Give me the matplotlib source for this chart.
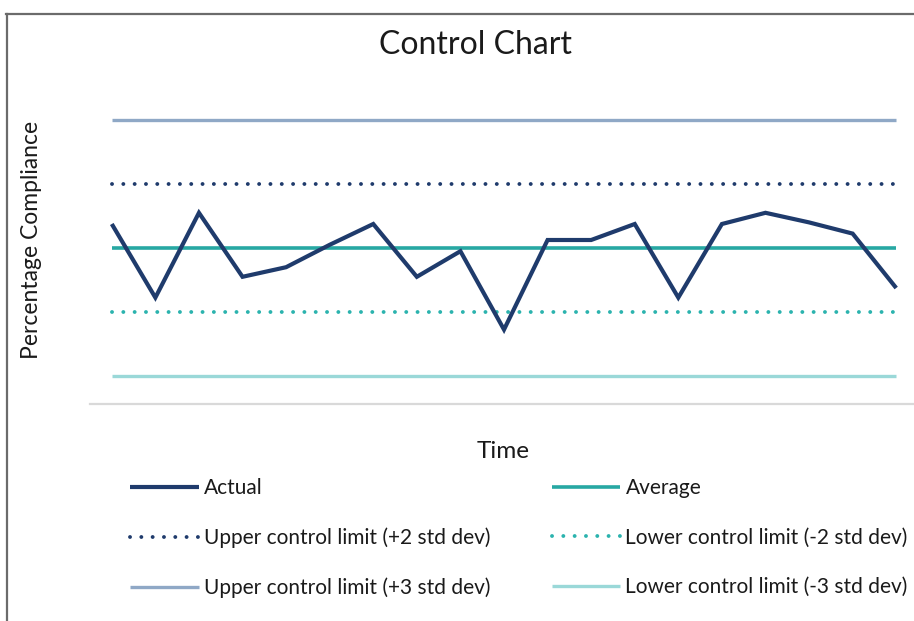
import matplotlib
matplotlib.use("Agg")
import matplotlib.pyplot as plt
from matplotlib.lines import Line2D

# ---- data ----
periods = list(range(1, 20))
actual = [86.5, 81.9, 87.2, 83.2, 83.8, 85.2, 86.5, 83.2, 84.8, 79.9,
          85.5, 85.5, 86.5, 81.9, 86.5, 87.2, 86.6, 85.9, 82.5]
average = 85.0
ucl2 = 89.0
lcl2 = 81.0
ucl3 = 93.0
lcl3 = 77.0

labels = ["Actual", "Upper control limit (+2 std dev)", "Upper control limit (+3 std dev)",
          "Average", "Lower control limit (-2 std dev)", "Lower control limit (-3 std dev)"]

plt.rcParams['font.family'] = ['Lato', 'DejaVu Sans']

W, H = 914, 621
fig = plt.figure(figsize=(W / 100, H / 100), dpi=100)
fig.patch.set_facecolor('white')

# axes placed in pixel terms
l, r, t, b = 90, 918, 100, 404
ax = fig.add_axes([l / W, (H - b) / H, (r - l) / W, (b - t) / H])
ax.set_facecolor('none')

n = len(periods)
ax.set_xlim(periods[0] - 0.5, periods[-1] + 0.5)
ax.set_ylim(75.25, 94.25)

c_actual = '#1f3b6c'
c_avg = '#27a8a3'
c_ucl2 = '#1f3b6c'
c_lcl2 = '#2bb3ae'
c_ucl3 = '#8fa8c6'
c_lcl3 = '#9ad8d8'

dot = (0, (0.01, 2.9))
h_ucl3, = ax.plot(periods, [ucl3] * n, color=c_ucl3, lw=2.4, solid_capstyle='butt')
h_lcl3, = ax.plot(periods, [lcl3] * n, color=c_lcl3, lw=2.4, solid_capstyle='butt')
h_ucl2, = ax.plot(periods, [ucl2] * n, color=c_ucl2, lw=2.8, linestyle=dot, dash_capstyle='round')
h_lcl2, = ax.plot(periods, [lcl2] * n, color=c_lcl2, lw=2.8, linestyle=dot, dash_capstyle='round')
h_avg, = ax.plot(periods, [average] * n, color=c_avg, lw=2.6, solid_capstyle='butt')
h_act, = ax.plot(periods, actual, color=c_actual, lw=3.0, solid_joinstyle='miter', solid_capstyle='butt')

for s in ['top', 'left', 'right']:
    ax.spines[s].set_visible(False)
ax.spines['bottom'].set_color('#d9d9d9')
ax.spines['bottom'].set_linewidth(1.6)
ax.set_xticks([])
ax.set_yticks([])

tc = '#1a1a1a'
# texts
fig.text(475 / W, 1 - 45 / H, "Control Chart", ha='center', va='center', fontsize=23, color=tc)
fig.text(32 / W, 1 - 240 / H, "Percentage Compliance", ha='center', va='center', rotation=90,
         fontsize=16.5, color=tc)
fig.text(503 / W, 1 - 452 / H, "Time", ha='center', va='center', fontsize=17.5, color=tc)

handles = [h_act, h_ucl2, h_ucl3, h_avg, h_lcl2, h_lcl3]
leg = fig.legend(handles, labels, ncol=2, loc='upper left',
                 bbox_to_anchor=(130 / W, 1 - 478 / H), frameon=False,
                 fontsize=15.0, handlelength=3.3, handletextpad=0.24,
                 columnspacing=2.95, labelspacing=1.42, borderaxespad=0, borderpad=0)
for txt in leg.get_texts():
    txt.set_color(tc)

# outer frame (partial, as in the cropped screenshot)
fig.add_artist(Line2D([6 / W, 1], [1 - 14 / H, 1 - 14 / H], color='#6b6b6b', lw=1.6,
                      transform=fig.transFigure))
fig.add_artist(Line2D([6.5 / W, 6.5 / W], [0, 1 - 14 / H], color='#6b6b6b', lw=1.6,
                      transform=fig.transFigure))

fig.savefig("out.png", dpi=100, facecolor='white')
